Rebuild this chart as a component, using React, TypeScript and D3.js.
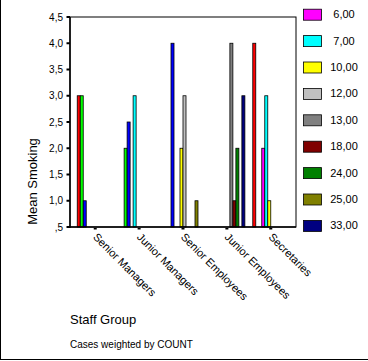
import React from "react";
import * as d3 from "d3";

const categories = ["Senior Managers", "Junior Managers", "Senior Employees", "Junior Employees", "Secretaries"];
// cluster slots (first three are not shown in the visible legend)
const clusterKeys = ["c1", "c2", "c3", "6,00", "7,00", "10,00", "12,00", "13,00", "18,00", "24,00", "25,00", "33,00"];
const clusterColors = ["#ff0000", "#00ff00", "#0000ff", "#ff00ff", "#00ffff", "#ffff00", "#c0c0c0", "#808080", "#800000", "#008000", "#808000", "#000080"];
const legendKeys = ["6,00", "7,00", "10,00", "12,00", "13,00", "18,00", "24,00", "25,00", "33,00"];
const yTicks = [0.5, 1, 1.5, 2, 2.5, 3, 3.5, 4, 4.5];
// values per category, indexed by cluster key (null = no bar)
const seniorManagers = { c1: 3.0, c2: 3.0, c3: 1.0 };
const juniorManagers = { c2: 2.0, c3: 2.5, "7,00": 3.0 };
const seniorEmployees = { c3: 4.0, "10,00": 2.0, "12,00": 3.0, "25,00": 1.0 };
const juniorEmployees = { "13,00": 4.0, "18,00": 1.0, "24,00": 2.0, "33,00": 3.0 };
const secretaries = { c1: 4.0, "6,00": 2.0, "7,00": 3.0, "10,00": 1.0 };
const seriesByCategory = [seniorManagers, juniorManagers, seniorEmployees, juniorEmployees, secretaries];

const fmt = (v: number) => (v < 1 ? "," + String(v).split(".")[1] : v.toFixed(1).replace(".", ","));

export default function App() {
  const W = 368, H = 361;
  const left = 70, right = 296, top = 17, bottom = 227;
  const x = d3.scaleBand<string>().domain(categories).range([left, right]).paddingInner(0.18).paddingOuter(0.165);
  const xs = d3.scaleBand<string>().domain(clusterKeys).range([0, x.bandwidth()]);
  const y = d3.scaleLinear().domain([0.5, 4.5]).range([bottom, top]);
  const colorOf = d3.scaleOrdinal<string, string>().domain(clusterKeys).range(clusterColors);
  const font = "'Liberation Sans', Arial, sans-serif";
  const legendY = (i: number) => 14.2 + i * 26.4;

  return (
    <svg width={W} height={H} style={{ position: "absolute", left: 0, top: 0, background: "#fff" }} fontFamily={font}>
      <rect x={0} y={0} width={W} height={H} fill="#fff" />
      <line x1={0.5} y1={0} x2={0.5} y2={360} stroke="#000" strokeWidth={1} />
      <line x1={0} y1={359.5} x2={W} y2={359.5} stroke="#000" strokeWidth={1} />
      {/* bars */}
      {categories.map((c, ci) => {
        const s: any = seriesByCategory[ci];
        return clusterKeys.map((k) =>
          s[k] == null ? null : (
            <rect
              key={c + k}
              x={(x(c) as number) + (xs(k) as number)}
              y={y(s[k])}
              width={xs.bandwidth()}
              height={y(0.5) - y(s[k])}
              fill={colorOf(k)}
              stroke="#000"
              strokeWidth={0.8}
            />
          )
        );
      })}
      {/* frame */}
      <rect x={left} y={top} width={right - left} height={bottom - top} fill="none" stroke="#000" strokeWidth={1} />
      <line x1={left} y1={top} x2={left} y2={bottom + 1} stroke="#000" strokeWidth={1.5} />
      <line x1={left - 1} y1={bottom} x2={right} y2={bottom} stroke="#000" strokeWidth={1.5} />
      {/* y ticks */}
      {yTicks.map((t) => (
        <g key={t}>
          <rect x={left - 3.5} y={y(t) - 1} width={3.5} height={2} fill="#000" />
          <text x={left - 7} y={y(t) + 3.5} textAnchor="end" fontSize={10} fill="#000">
            {fmt(t)}
          </text>
        </g>
      ))}
      {/* x ticks and labels */}
      {categories.map((c) => {
        const cx = (x(c) as number) + x.bandwidth() / 2;
        return (
          <g key={c}>
            <rect x={cx - 1.5} y={bottom + 1} width={3} height={1.5} fill="#000" />
            <text transform={`translate(${cx + 3},${bottom + 5}) rotate(45)`} fontSize={11} dy="0.75em" fill="#000">
              {c}
            </text>
          </g>
        );
      })}
      <text transform={`translate(37,${(135 + 228) / 2}) rotate(-90)`} textAnchor="middle" fontSize={13} fill="#000">
        Mean Smoking
      </text>
      <text x={70} y={324} fontSize={13} fill="#000">Staff Group</text>
      <text x={70} y={348} fontSize={10} fill="#000">Cases weighted by COUNT</text>
      {/* legend */}
      {legendKeys.map((k, i) => (
        <g key={k}>
          <rect x={303.5} y={legendY(i) - 5} width={18} height={11} fill={colorOf(k)} stroke="#000" strokeWidth={0.8} />
          <text x={344} y={legendY(i) + 4} textAnchor="middle" fontSize={11} fill="#000">
            {k}
          </text>
        </g>
      ))}
    </svg>
  );
}
